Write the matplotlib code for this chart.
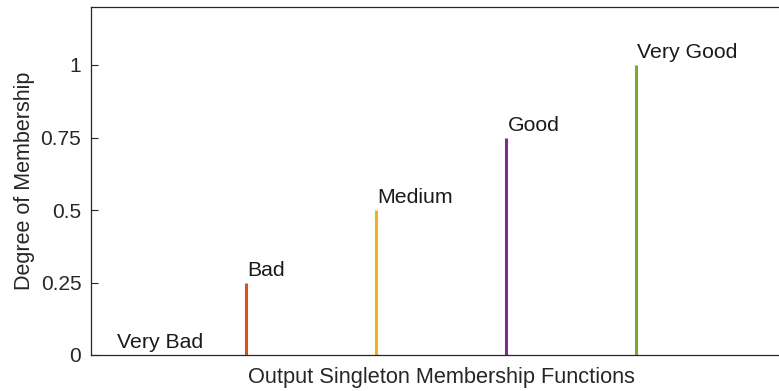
import matplotlib.pyplot as plt

plt.rcParams['font.family'] = ['Liberation Sans', 'DejaVu Sans']

# singleton output membership functions
names = ['Very Bad', 'Bad', 'Medium', 'Good', 'Very Good']
positions = [0, 0.25, 0.5, 0.75, 1.0]
degrees = [0, 0.25, 0.5, 0.75, 1.0]
colors = ['#0072BD', '#D95319', '#EDB120', '#7E2F8E', '#77AC30']
yticks = [0, 0.25, 0.5, 0.75, 1]
ytick_labels = ['0', '0.25', '0.5', '0.75', '1']

axcol = '#262626'

fig = plt.figure(figsize=(7.79, 3.91), dpi=100)
# the axes run a little past the right edge of the image, as in the original
ax = fig.add_axes([91/779, 36/391, (791-91)/779, (355-7)/391])

for x, h, c, name in zip(positions, degrees, colors, names):
    ax.vlines(x, 0, h, color=c, linewidth=2.2)
    ax.annotate(name, (x, h), xytext=(1, 2), textcoords='offset points',
                ha='left', va='bottom', fontsize=15.3, color='#1a1a1a')

ax.set_xlim(-0.048, 1.298)
ax.set_ylim(0, 1.2)
ax.set_xticks([])
ax.set_yticks(yticks)
ax.set_yticklabels(ytick_labels)
ax.tick_params(axis='y', direction='in', length=5, colors=axcol, labelsize=15, pad=7)
for s in ax.spines.values():
    s.set_color(axcol)
    s.set_linewidth(0.9)
ax.spines['right'].set_visible(False)

ax.set_xlabel('Output Singleton Membership Functions', fontsize=15.7, color=axcol, labelpad=9)
ax.set_ylabel('Degree of Membership', fontsize=15.5, color=axcol, labelpad=4)

fig.savefig('out.png', dpi=100)
